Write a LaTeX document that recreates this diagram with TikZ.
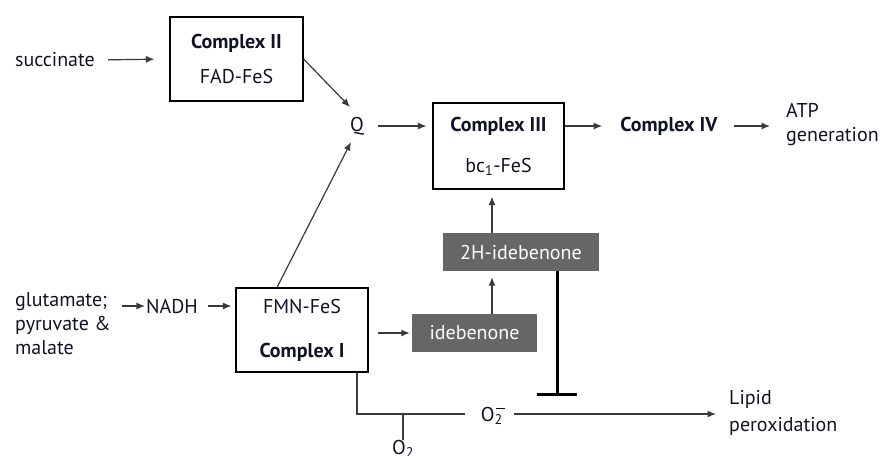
\documentclass[tikz,border=0pt]{standalone}
\usepackage{fontspec}
\setmainfont{PT Sans}
\usetikzlibrary{arrows.meta,calc}
\definecolor{txt}{HTML}{121226}
\definecolor{ln}{HTML}{3A3A3A}
\definecolor{boxfill}{HTML}{666666}
\tikzset{
  every node/.style={text=txt, font=\fontsize{20}{24}\selectfont},
  lbl/.style={inner sep=0pt},
  cbox/.style={draw=black, line width=1.1pt, inner sep=0pt, align=center},
  gbox/.style={fill=boxfill, inner sep=0pt, text=white, minimum height=38pt},
  arr/.style={draw=ln, line width=1.2pt, -{Latex[length=8.5pt,width=7pt]}},
  pln/.style={draw=ln, line width=1.2pt},
}
\begin{document}
\begin{tikzpicture}[x=1pt,y=-1pt]
\useasboundingbox (0,0) rectangle (880,455);
% nodes
\node[lbl] (succ) at (55,60) {succinate};
\node[cbox, minimum width=133pt, minimum height=84pt,
      font=\fontsize{20}{35}\selectfont] (c2) at (236.5,59)
      {\textbf{Complex II}\\FAD-FeS};
\node[lbl] (Q) at (357,126) {Q};
\node[cbox, minimum width=131pt, minimum height=86pt,
      font=\fontsize{20}{41}\selectfont] (c3) at (498.5,146)
      {\textbf{Complex III}\\bc\textsubscript{1}-FeS};
\node[lbl] (c4) at (669,126) {\textbf{Complex IV}};
\node[lbl, anchor=west, align=left, font=\fontsize{20}{24}\selectfont] (atp) at (786,125) {ATP\\generation};
\node[lbl, anchor=west, align=left, font=\fontsize{20}{24}\selectfont] (glu) at (15,324) {glutamate;\\pyruvate \&\\malate};
\node[lbl] (nadh) at (172,306) {NADH};
\node[cbox, minimum width=132pt, minimum height=84pt,
      font=\fontsize{20}{44}\selectfont] (c1) at (302,330)
      {FMN-FeS\\\textbf{Complex I}};
\node[gbox, minimum width=125pt] (ide) at (474.5,333) {idebenone};
\node[gbox, minimum width=156pt] (h2) at (521,252) {2H-idebenone};
\node[lbl] (o2m) at (493,416) {O\rlap{\textsubscript{2}}\kern0.08em\rule[0.62em]{0.45em}{0.07em}};
\node[lbl, anchor=north] (o2) at (403,440) {O\textsubscript{2}};
\node[lbl, anchor=west, align=left, font=\fontsize{20}{27}\selectfont] (lip) at (729,413) {Lipid\\peroxidation};
\coordinate (vx) at (492,0);
\coordinate (ix) at (557,0);
\coordinate (bar) at (557,396);
\coordinate (corner) at (357,414);
\coordinate (tick) at (403,414);
% connectors
\draw[arr, shorten <=13pt, shorten >=15pt] (succ.east) -- (c2.west);
\draw[arr] (c2.east) -- ([shift={(-7,-19)}]Q.center);
\draw[arr] ([xshift=-25pt]c1.north) -- ([shift={(-6,16)}]Q.center);
\draw[arr, shorten <=14pt, shorten >=6pt] (Q.east) -- (c3.west |- Q);
\draw[arr, shorten >=18pt] (c3.east |- c4) -- (c4.west);
\draw[arr, shorten <=16pt, shorten >=16pt] (c4.east) -- (atp.west |- c4);
\draw[arr, shorten <=11pt, shorten >=1pt] (nadh.west -| glu.east) -- (nadh.west);
\draw[arr, shorten <=10pt, shorten >=4pt] (nadh.east) -- (c1.west |- nadh);
\draw[arr, shorten <=9pt, shorten >=2pt] (c1.east |- ide) -- (ide.west);
\draw[arr, shorten >=6pt] (ide.north -| vx) -- (h2.south -| vx);
\draw[arr, shorten >=7pt] (h2.north -| vx) -- (c3.south -| vx);
\draw[draw=black, line width=3pt, -{Bar[width=40pt]}] (h2.south -| ix) -- (bar);
\draw[pln] (c1.south -| corner) -- (corner) -- ([xshift=-16pt]o2m.west |- corner);
\draw[pln] (tick) -- (o2.north);
\draw[arr, shorten <=9pt, shorten >=13pt] (o2m.east |- corner) -- (lip.west |- corner);
\end{tikzpicture}
\end{document}
